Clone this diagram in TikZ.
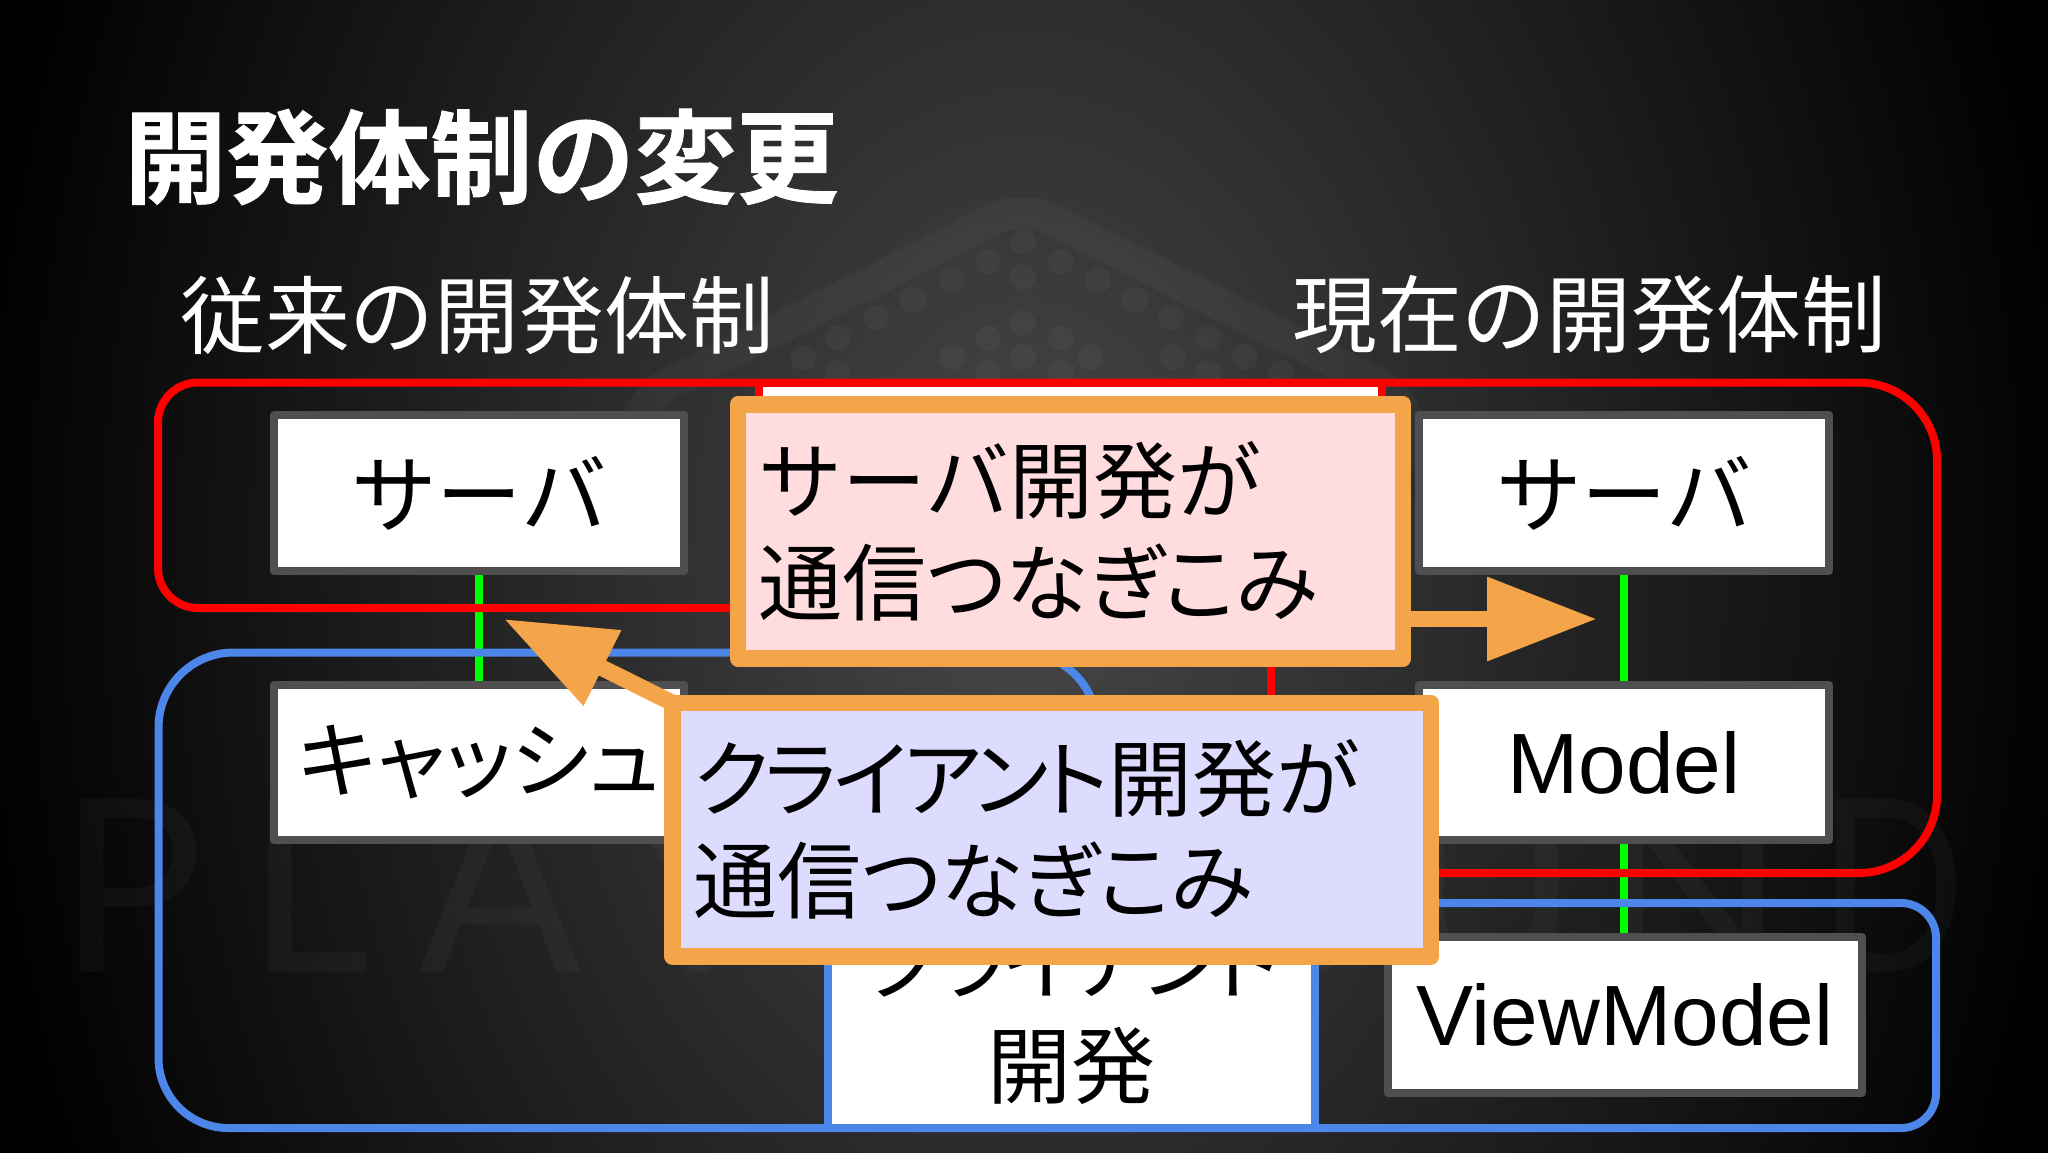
\documentclass[tikz,border=0pt]{standalone}
\usepackage{fontspec}
\usetikzlibrary{arrows.meta}
\setmainfont{Liberation Sans}
\newfontfamily\jp{Noto Sans CJK JP}[RawFeature={+palt}]
\newfontfamily\jpt{Noto Sans CJK JP}[RawFeature={+palt},LetterSpace=-5]
\newfontfamily\jpm{Noto Sans CJK JP}
\newfontfamily\jpb{Noto Sans CJK JP Bold}[FakeBold=0.8]
\newfontfamily\wmfont{Lato}
\definecolor{bgc}{HTML}{484848}
\definecolor{oc}{HTML}{F4A54A}
\definecolor{pinkc}{HTML}{FFDCDD}
\definecolor{lavc}{HTML}{DDDCFF}
\definecolor{redc}{HTML}{FF0000}
\definecolor{bluec}{HTML}{4C86E8}
\definecolor{greenc}{HTML}{00FF00}
\definecolor{grayc}{HTML}{4F4F51}
\pgfdeclareradialshading{bgshade}{\pgfpointorigin}{color(0bp)=(bgc); color(25bp)=(black); color(50bp)=(black)}
\pgfdeclarelayer{bglayer}
\pgfdeclarelayer{greenlayer}
\pgfdeclarelayer{linelayer}
\pgfdeclarelayer{arrowlayer}
\pgfdeclarelayer{frontlayer}
\pgfsetlayers{bglayer,greenlayer,linelayer,main,arrowlayer,frontlayer}
\tikzset{
  boxbase/.style={draw=grayc,line width=4pt,fill=white,inner sep=0pt,outer sep=0pt,line join=round,text=black,align=center,font=\fontsize{42.8}{52}\selectfont},
  colbox/.style={boxbase,minimum width=205pt,minimum height=78pt},
  rowcell/.style={boxbase,minimum width=205pt,minimum height=77.5pt},
  callout/.style={draw=oc,line width=8.25pt,line join=round,inner ysep=0pt,outer sep=0pt,text=black,align=left,anchor=north west,font=\jp\fontsize{42}{51}\selectfont},
  linkg/.style={draw=greenc,line width=4pt},
  outline/.style={line width=4pt,line join=round},
  headline/.style={text=white,inner sep=0pt,font=\jpb\fontsize{51}{60}\selectfont},
  subhead/.style={text=white,inner sep=0pt,font=\jpm\fontsize{42.4}{50}\selectfont},
  pointer/.style={draw=oc,line width=8.25pt,-{Triangle[length=55pt,width=40pt,color=oc]}},
  faint/.style={white,opacity=.03}
}
\begin{document}
\begin{tikzpicture}[x=.5pt,y=-.5pt]
\useasboundingbox (0,0) rectangle (2048,1152);
\begin{pgfonlayer}{bglayer}
  \fill[black] (-10,-10) rectangle (2058,1162);
  \begin{scope}
    \clip (0,0) rectangle (2048,1152);
    \shade[shading=bgshade] (1024,560) ellipse [x radius=530pt,y radius=750pt];
    \draw[faint,line width=16pt,rounded corners=16pt,line join=round] (632,470) -- (640,398) -- (1023,205) -- (1406,398) -- (1414,470);
    \foreach \dx/\dy in {1023/242,988/262,1061/262,952/280,1023/277,1098/280,913/300,1135/300,876/318,1023/323,1171/318,838/338,988/338,1061/338,1208/338,803/358,952/357,1023/357,1090/357,1173/357,1245/357,838/373,988/373,1061/373,1208/373,1281/373}
      \fill[faint] (\dx,\dy) circle [radius=6.5pt];
    \foreach \ltr/\xx in {P/58,L/246,A/418,Y/623,G/810,R/1010,O/1200,U/1400,N/1600}
      \node[anchor=base west,inner sep=0pt,text=white,text opacity=.03,font=\wmfont\fontsize{121}{121}\selectfont] (wm\ltr) at (\xx,972) {\ltr};
    \node[anchor=base west,inner sep=0pt,text=white,text opacity=.03,font=\wmfont\fontsize{121}{121}\selectfont,xscale=.8] (wmD) at (1818,972) {D};
  \end{scope}
\end{pgfonlayer}

\node[headline,anchor=center] (title) at (481.5,157) {開発体制の変更};
\node[subhead] (oldhead) at (477,315) {従来の開発体制};
\node[subhead] (newhead) at (1589,315) {現在の開発体制};

\node[colbox] (srvL) at (479,493) {\raisebox{1pt}{\jpm\fontsize{42.8}{52}\selectfont サーバ}};
\node[rowcell] (cache) at (479,762.5) {\jp\fontsize{42}{52}\selectfont キャッシュ};
\node[colbox] (srvR) at (1624,493) {\raisebox{1pt}{\jpm\fontsize{42.8}{52}\selectfont サーバ}};
\node[rowcell] (model) at (1624,762.5) {Model};
\node[boxbase,minimum width=237.25pt,minimum height=77.75pt] (vm) at (1624.75,1014.75) {ViewModel};

\node[draw=redc,line width=4pt,fill=white,inner sep=0pt,outer sep=0pt,minimum width=311.5pt,minimum height=100pt,anchor=north west] (srvdev) at (759,382.5) {};
\node[draw=bluec,line width=4pt,fill=white,inner sep=0pt,outer sep=0pt,minimum width=243.5pt,minimum height=113pt,anchor=south west,text=black,align=center,font=\fontsize{42}{52}\selectfont] (cldev) at (828,1128) {{\jpt クライアント}\\{\jp 開発}};

\begin{pgfonlayer}{greenlayer}
  \draw[linkg] (srvL.south) -- (cache.north);
  \draw[linkg] (srvR.south) -- (model.north);
  \draw[linkg] (model.south) -- (model.south |- vm.north);
\end{pgfonlayer}

\begin{pgfonlayer}{linelayer}
  \draw[outline,draw=redc,rounded corners=39pt] (600,382.5) -- (1937,382.5) -- (1937,873) [rounded corners=0pt] -- (1271,873) -- (1271,608) [rounded corners=20pt] -- (158,608) -- (158,382.5) -- cycle;
  \draw[outline,draw=bluec,rounded corners=37.5pt] (600,652.5) -- (1097,652.5) [rounded corners=0pt] -- (1097,903) [rounded corners=17.5pt] -- (1936,903) -- (1936,1128) [rounded corners=35pt] -- (158.5,1128) [rounded corners=37.5pt] -- (158.5,652.5) -- cycle;
\end{pgfonlayer}

\begin{pgfonlayer}{frontlayer}
  \node[callout,fill=pinkc,minimum width=332.5pt,minimum height=127pt,text width=312pt,inner xsep=10.25pt] (srvnote) at (738,404.5) {{\jpm サーバ}開発が\\通信つなぎこみ};
  \node[callout,fill=lavc,minimum width=379.25pt,minimum height=126.75pt,text width=358pt,inner xsep=10.6pt] (clnote) at (672.5,703) {{\jpt クライアント}開発が\\通信つなぎこみ};
\end{pgfonlayer}

\coordinate (tipR) at (1597,619);
\coordinate (tipL) at (504,619);
\begin{pgfonlayer}{arrowlayer}
  \draw[pointer] (srvnote.east |- tipR) -- (tipR);
  \draw[pointer] (clnote.north west) -- (tipL);
\end{pgfonlayer}
\end{tikzpicture}
\end{document}
